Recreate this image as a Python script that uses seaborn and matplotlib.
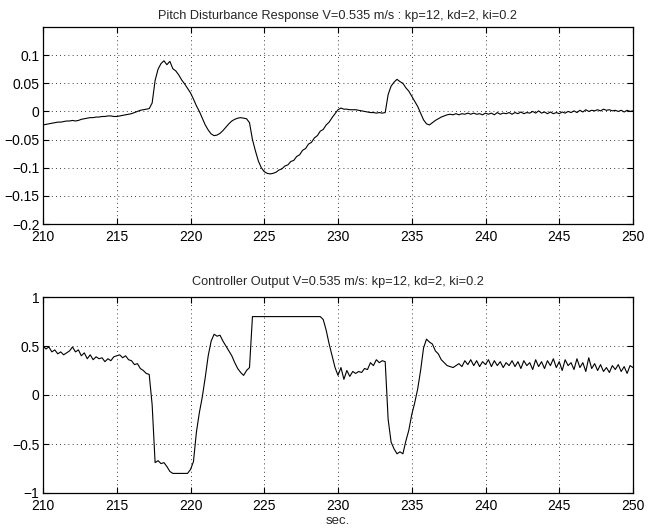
import numpy as np
import pandas as pd
import matplotlib
matplotlib.use("Agg")
import matplotlib.pyplot as plt
import seaborn as sns

pitch = [
    -0.024, -0.023, -0.022, -0.021, -0.020, -0.019, -0.019, -0.018, -0.017, -0.017,  # 210-211.8
    -0.016, -0.017, -0.016, -0.014, -0.013, -0.012, -0.011, -0.011, -0.010, -0.010,  # 212-213.8
    -0.009, -0.009, -0.008, -0.008, -0.009, -0.009, -0.008, -0.007, -0.006, -0.005,  # 214-215.8
    -0.004, -0.002, 0.000, 0.002, 0.003, 0.004, 0.005, 0.015, 0.055, 0.075,           # 216-217.8
    0.085, 0.090, 0.083, 0.089, 0.076, 0.072, 0.065, 0.056, 0.049, 0.041,             # 218-219.8
    0.033, 0.022, 0.010, 0.000, -0.012, -0.024, -0.033, -0.040, -0.043, -0.042,       # 220-221.8
    -0.039, -0.034, -0.028, -0.022, -0.017, -0.014, -0.012, -0.011, -0.012, -0.013,   # 222-223.8
    -0.020, -0.050, -0.070, -0.088, -0.100, -0.107, -0.110, -0.111, -0.110, -0.108,   # 224-225.8
    -0.104, -0.102, -0.097, -0.095, -0.089, -0.087, -0.080, -0.077, -0.069, -0.066,   # 226-227.8
    -0.058, -0.055, -0.047, -0.043, -0.035, -0.032, -0.024, -0.019, -0.011, -0.004,   # 228-229.8
    0.003, 0.006, 0.004, 0.004, 0.003, 0.003, 0.003, 0.002, 0.001, 0.000,             # 230-231.8
    -0.001, -0.002, -0.002, -0.003, -0.002, -0.003, -0.002, 0.030, 0.045, 0.052,      # 232-233.8
    0.057, 0.053, 0.050, 0.042, 0.036, 0.027, 0.018, 0.009, -0.003, -0.015,           # 234-235.8
    -0.022, -0.024, -0.020, -0.016, -0.013, -0.010, -0.008, -0.006, -0.005, -0.006,   # 236-237.8
    -0.004, -0.006, -0.004, -0.005, -0.003, -0.005, -0.003, -0.005, -0.004, -0.006,   # 238-239.8
    -0.003, -0.005, -0.003, -0.006, -0.002, -0.005, -0.003, -0.004, -0.002, -0.005,   # 240-241.8
    -0.002, -0.004, -0.001, -0.004, -0.002, -0.003, 0.000, -0.003, 0.001, -0.003,     # 242-243.8
    -0.001, -0.004, -0.001, -0.004, -0.002, -0.004, -0.001, -0.003, 0.000, -0.002,    # 244-245.8
    0.001, -0.002, 0.002, -0.001, 0.003, 0.000, 0.002, 0.001, 0.003, 0.001,           # 246-247.8
    0.004, 0.002, 0.003, 0.001, 0.002, 0.000, 0.002, -0.001, 0.002, 0.000,            # 248-249.8
    0.001,                                                                             # 250
]

controller = [
    0.50, 0.47, 0.49, 0.44, 0.46, 0.42, 0.44, 0.41, 0.43, 0.45,   # 210-211.8
    0.49, 0.44, 0.46, 0.40, 0.43, 0.37, 0.41, 0.36, 0.39, 0.37,   # 212-213.8
    0.38, 0.34, 0.37, 0.35, 0.39, 0.40, 0.41, 0.38, 0.40, 0.36,   # 214-215.8
    0.35, 0.31, 0.32, 0.27, 0.25, 0.22, 0.21, -0.10, -0.69, -0.67,  # 216-217.8
    -0.70, -0.69, -0.73, -0.78, -0.80, -0.80, -0.80, -0.80, -0.80, -0.80,  # 218-219.8
    -0.76, -0.68, -0.38, -0.18, -0.02, 0.18, 0.40, 0.55, 0.62, 0.60,  # 220-221.8
    0.61, 0.55, 0.50, 0.45, 0.40, 0.33, 0.27, 0.23, 0.20, 0.25,   # 222-223.8
    0.28, 0.80, 0.80, 0.80, 0.80, 0.80, 0.80, 0.80, 0.80, 0.80,   # 224-225.8
    0.80, 0.80, 0.80, 0.80, 0.80, 0.80, 0.80, 0.80, 0.80, 0.80,   # 226-227.8
    0.80, 0.80, 0.80, 0.80, 0.80, 0.77, 0.66, 0.52, 0.40, 0.28,   # 228-229.8
    0.20, 0.28, 0.16, 0.25, 0.19, 0.24, 0.22, 0.24, 0.23, 0.27,   # 230-231.8
    0.26, 0.33, 0.30, 0.36, 0.33, 0.35, 0.34, -0.25, -0.48, -0.55,  # 232-233.8
    -0.60, -0.58, -0.60, -0.47, -0.36, -0.20, -0.08, 0.06, 0.25, 0.48,  # 234-235.8
    0.57, 0.54, 0.52, 0.45, 0.42, 0.36, 0.33, 0.30, 0.29, 0.28,   # 236-237.8
    0.30, 0.32, 0.29, 0.35, 0.31, 0.36, 0.30, 0.35, 0.29, 0.34,   # 238-239.8
    0.31, 0.36, 0.29, 0.35, 0.30, 0.34, 0.28, 0.33, 0.30, 0.35,   # 240-241.8
    0.29, 0.34, 0.27, 0.35, 0.30, 0.33, 0.26, 0.36, 0.29, 0.34,   # 242-243.8
    0.27, 0.35, 0.30, 0.37, 0.28, 0.34, 0.25, 0.36, 0.30, 0.33,   # 244-245.8
    0.26, 0.37, 0.28, 0.33, 0.24, 0.38, 0.27, 0.32, 0.25, 0.31,   # 246-247.8
    0.24, 0.28, 0.23, 0.30, 0.26, 0.31, 0.24, 0.29, 0.22, 0.30,   # 248-249.8
    0.28,                                                          # 250
]

t_start, t_end = 210, 250
time = np.linspace(t_start, t_end, len(pitch))

x_ticks = [210, 215, 220, 225, 230, 235, 240, 245, 250]
x_ticklabels = ["210", "215", "220", "225", "230", "235", "240", "245", "250"]
top_yticks = [-0.2, -0.15, -0.1, -0.05, 0, 0.05, 0.1]
top_yticklabels = ["\u22120.2", "\u22120.15", "\u22120.1", "\u22120.05", "0", "0.05", "0.1"]
bot_yticks = [-1, -0.5, 0, 0.5, 1]
bot_yticklabels = ["\u22121", "\u22120.5", "0", "0.5", "1"]

title_top = "Pitch Disturbance Response V=0.535 m/s : kp=12, kd=2, ki=0.2"
title_bot = "Controller Output V=0.535 m/s: kp=12, kd=2, ki=0.2"
xlabel_bot = "sec."

df = pd.DataFrame({"time": time, "pitch": pitch, "controller": controller})

# ---- style ----
sns.set_style("white")
plt.rcParams["font.family"] = ["Liberation Sans", "DejaVu Sans"]
plt.rcParams["font.size"] = 10
plt.rcParams["axes.unicode_minus"] = True

W, H = 654, 529
fig = plt.figure(figsize=(W / 100, H / 100), dpi=100)
fig.patch.set_facecolor("white")

left = 43 / W
width = 590 / W
ax1 = fig.add_axes([left, 1 - 224 / H, width, 197 / H])
ax2 = fig.add_axes([left, 1 - 493 / H, width, 196 / H])

sns.lineplot(data=df, x="time", y="pitch", ax=ax1, color="black", lw=0.8, estimator=None)
sns.lineplot(data=df, x="time", y="controller", ax=ax2, color="black", lw=0.8, estimator=None)

def style(ax, yticks, ylabels, ylim, title, tpad):
    ax.set_xlim(t_start, t_end)
    ax.set_ylim(*ylim)
    ax.set_xticks(x_ticks)
    ax.set_xticklabels(x_ticklabels)
    ax.set_yticks(yticks)
    ax.set_yticklabels(ylabels)
    ax.set_xlabel("")
    ax.set_ylabel("")
    ax.grid(True, linestyle=(0, (1, 4)), color="black", lw=0.6)
    ax.tick_params(direction="in", length=4, width=0.8, top=True, right=True,
                   bottom=True, left=True, labelsize=10, colors="black")
    ax.tick_params(axis="x", pad=4.5)
    ax.tick_params(axis="y", pad=2.5)
    for s in ax.spines.values():
        s.set_visible(True)
        s.set_color("black")
        s.set_linewidth(0.9)
    ax.set_title(title, fontsize=9.2, pad=tpad)
    ax.set_facecolor("white")

style(ax1, top_yticks, top_yticklabels, (-0.2, 0.15), title_top, 5.5)
style(ax2, bot_yticks, bot_yticklabels, (-1, 1), title_bot, 9)
ax2.set_xlabel(xlabel_bot, fontsize=9.5, labelpad=1.5)

fig.savefig("out.png", dpi=100, facecolor="white")
